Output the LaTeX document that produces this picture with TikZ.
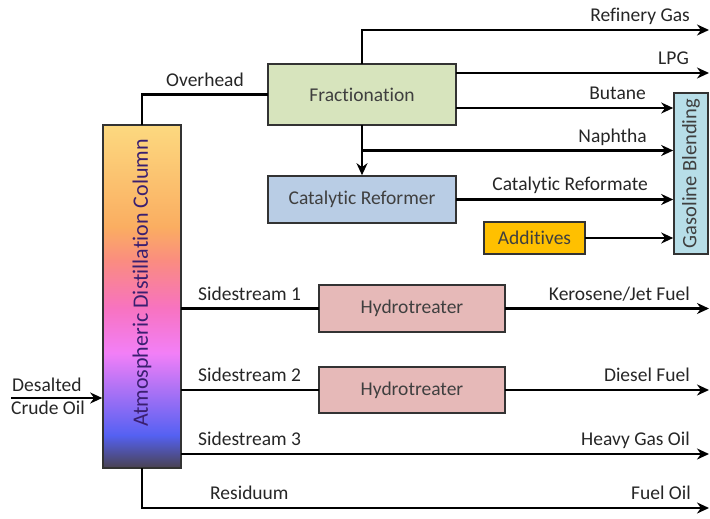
\documentclass[tikz,border=0pt]{standalone}
\usepackage{fontspec}
\setmainfont{Carlito}[Ligatures=NoCommon]
\usepackage{tikz}
\usetikzlibrary{arrows.meta, positioning, calc}
\definecolor{fracgreen}{HTML}{D7E4BD}
\definecolor{reformblue}{HTML}{B9CDE5}
\definecolor{blendblue}{HTML}{B7DEE8}
\definecolor{hydropink}{HTML}{E6B9B8}
\definecolor{addorange}{HTML}{FFC000}
\definecolor{boxtext}{HTML}{3F3F3F}
\definecolor{coltext}{HTML}{3A1F70}
% column colours, top to bottom
\definecolor{colA}{rgb}{0.99,0.85,0.50}
\definecolor{colB}{rgb}{0.98,0.68,0.38}
\definecolor{colC}{rgb}{0.98,0.55,0.50}
\definecolor{colD}{rgb}{0.97,0.45,0.75}
\definecolor{colE}{rgb}{0.95,0.50,0.97}
\definecolor{colF}{rgb}{0.33,0.38,0.95}
\definecolor{colG}{rgb}{0.29,0.26,0.32}

\begin{document}
\begin{tikzpicture}[x=1pt, y=-1pt, font=\fontsize{19.5}{21}\selectfont, >=Stealth,
    unit/.style={rectangle, draw=black!80, line width=1.6pt, text=boxtext,
      inner sep=0pt, align=center},
    lbl/.style={text=black!85, inner sep=0pt},
    flow/.style={line width=2.4pt, line cap=rect},
    arr/.style={flow, -{Stealth[length=12pt, width=11pt]}},
  ]
    \useasboundingbox (0,0) rectangle (710,519);

    % Column and feed
    \shade[top color=colA, bottom color=colB] (103,125) rectangle (181,227.5);
    \shade[top color=colB, bottom color=colC] (103,227) rectangle (181,260.5);
    \shade[top color=colC, bottom color=colD] (103,260) rectangle (181,307.5);
    \shade[top color=colD, bottom color=colE] (103,307) rectangle (181,353.5);
    \shade[top color=colE, bottom color=colF] (103,353) rectangle (181,435.5);
    \shade[top color=colF, bottom color=colG] (103,435) rectangle (181,468);
    \node[unit, minimum width=78pt, minimum height=343pt] (col) at (142,296.5) {};
    \node[rotate=90, text=coltext, font=\fontsize{22}{24}\selectfont, inner sep=0pt]
      (coltitle) at (142,283) {Atmospheric Distillation Column};
    \coordinate (crudein) at (12,398);
    \draw[arr] (crudein) -- (crudein -| col.west);
    \node[lbl, anchor=base west] (desalted) at (12,391) {Desalted};
    \node[lbl, anchor=base west] (crude)    at (11,414) {Crude Oil};

    % Light ends
    \node[unit, fill=fracgreen, minimum width=188pt, minimum height=61pt]
      (frac) at (362,94.5) {Fractionation};
    \node[unit, fill=reformblue, minimum width=188pt, minimum height=47pt]
      (reform) at (362,199.5) {Catalytic Reformer};
    \node[unit, fill=addorange, minimum width=101pt, minimum height=32pt]
      (add) at (534.5,238) {Additives};
    \node[unit, fill=blendblue, minimum width=34pt, minimum height=161pt,
      label={[rotate=90, text=boxtext, font=\fontsize{20.5}{22}\selectfont]center:Gasoline Blending}]
      (blend) at (691,173.5) {};

    \draw[flow] (col.north) |- (frac.west);
    \node[lbl, anchor=base] (overhead) at (205,86.5) {Overhead};

    \coordinate (gasend) at (709,30);
    \coordinate (lpgend) at (709,73);
    \draw[arr] (frac.north) |- (gasend);
    \draw[arr] ([yshift=21.5pt]frac.east) -- (lpgend);
    \draw[arr] ([yshift=-13.5pt]frac.east) -- ([yshift=-13.5pt]frac.east -| blend.west);
    \coordinate (naph) at ($(frac.south)!0.5!(reform.north)$);
    \draw[arr] (frac.south) -- (reform.north);
    \draw[arr] (naph) -- (naph -| blend.west);
    \draw[arr] (reform.east) -- (reform.east -| blend.west);
    \draw[arr] (add.east) -- (add.east -| blend.west);

    \node[lbl, anchor=base east] (refgas)  at (690,21.5)  {Refinery Gas};
    \node[lbl, anchor=base east] (lpg)     at (689,64.5)  {LPG};
    \node[lbl, anchor=base east] (butane)  at (646,99.5)  {Butane};
    \node[lbl, anchor=base east] (naphtha) at (647,142.5) {Naphtha};
    \node[lbl, anchor=base east] (reformate) at (648,190.5) {Catalytic Reformate};

    % Side streams
    \node[unit, fill=hydropink, minimum width=186pt, minimum height=47pt]
      (hydro1) at (412,308.5) {Hydrotreater};
    \node[unit, fill=hydropink, minimum width=186pt, minimum height=46pt]
      (hydro2) at (412,390) {Hydrotreater};
    \coordinate (keroend)   at (709,308.5);
    \coordinate (dieselend) at (709,390);
    \coordinate (hgoend)    at (709,454);
    \coordinate (fuelend)   at (709,508);

    \draw[flow] (hydro1.west -| col.east) -- (hydro1.west);
    \draw[arr] (hydro1.east) -- (keroend);
    \draw[flow] (hydro2.west -| col.east) -- (hydro2.west);
    \draw[arr] (hydro2.east) -- (dieselend);
    \draw[arr] (hgoend -| col.east) -- (hgoend);
    \draw[arr] (col.south) |- (fuelend);

    \node[lbl, anchor=base west] (side1) at (198,300)   {Sidestream 1};
    \node[lbl, anchor=base west] (side2) at (198,381.5) {Sidestream 2};
    \node[lbl, anchor=base west] (side3) at (198,445.5) {Sidestream 3};
    \node[lbl, anchor=base west] (resid) at (210,499.5) {Residuum};
    \node[lbl, anchor=base east] (kero)   at (690,300)   {Kerosene/Jet Fuel};
    \node[lbl, anchor=base east] (diesel) at (690,381.5) {Diesel Fuel};
    \node[lbl, anchor=base east] (hgo)    at (690,445.5) {Heavy Gas Oil};
    \node[lbl, anchor=base east] (fueloil) at (691,499.5) {Fuel Oil};
  \end{tikzpicture}
\end{document}
